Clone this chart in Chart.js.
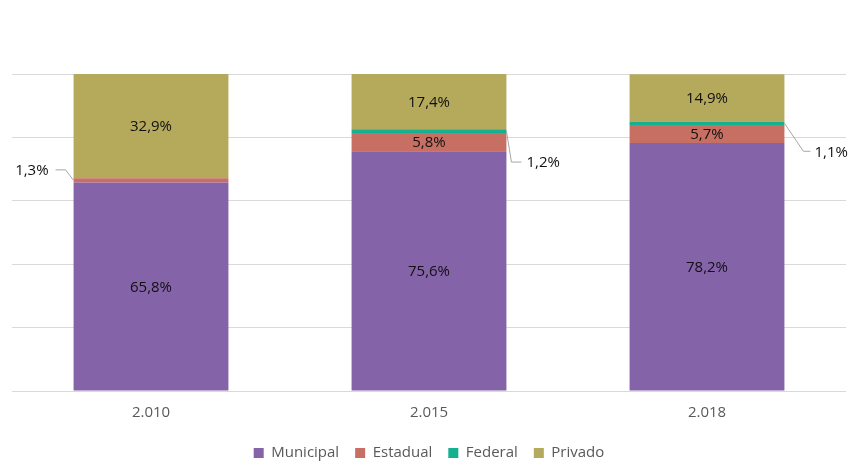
<!DOCTYPE html>
<html>
<head>
<meta charset="utf-8">
<script src="https://cdn.jsdelivr.net/npm/chart.js@4.4.1/dist/chart.umd.min.js"></script>
<style>
    html, body { margin: 0; padding: 0; background: #fff; overflow: hidden; }
    .chart-wrap { width: 852px; height: 462px; position: relative; }
</style>
</head>
<body>
<div class="chart-wrap"><canvas id="shareChart"></canvas></div>
<script>
// Data (% of enrolment by school network)
const years = ['2.010', '2.015', '2.018'];
const municipal = [65.8, 75.6, 78.2];
const estadual = [1.3, 5.8, 5.7];
const federal = [0, 1.2, 1.1];
const privado = [32.9, 17.4, 14.9];

const yTicks = [0, 20, 40, 60, 80, 100];

// Value labels drawn inside the segments, small ones with a leader line
const valueLabels = {
    id: 'valueLabels',
    afterDatasetsDraw(chart, args, opts) {
        const ctx = chart.ctx;
        ctx.save();
        ctx.font = '15px "Open Sans"';
        ctx.textBaseline = 'middle';
        chart.data.datasets.forEach((ds, di) => {
            const meta = chart.getDatasetMeta(di);
            meta.data.forEach((bar, i) => {
                const v = ds.data[i];
                if (!v) return;
                const text = v.toFixed(1).replace('.', ',') + '%';
                const top = Math.min(bar.y, bar.base);
                const bottom = Math.max(bar.y, bar.base);
                const midY = (top + bottom) / 2;

                if (bottom - top > 14) {
                    ctx.fillStyle = '#111';
                    ctx.textAlign = 'center';
                    ctx.fillText(text, bar.x, midY + 1);
                    return;
                }

                // callout
                const c = opts.callouts[i];
                const ax = c.side === 'left' ? bar.x - bar.width / 2 : bar.x + bar.width / 2;
                ctx.strokeStyle = '#A6A6A6';
                ctx.lineWidth = 1;
                ctx.beginPath();
                ctx.moveTo(ax, midY);
                ctx.lineTo(ax + c.ex, midY + c.ey);
                ctx.lineTo(ax + c.lx, midY + c.ey);
                ctx.stroke();
                ctx.fillStyle = '#111';
                ctx.textAlign = c.side === 'left' ? 'right' : 'left';
                ctx.fillText(text, ax + c.tx, midY + c.ey + 1);
            });
        });
        ctx.restore();
    }
};

// Push the legend row down to where the original sits
const legendShift = {
    id: 'legendShift',
    afterLayout(chart, args, opts) {
        const l = chart.legend;
        if (!l) return;
        const pad = l.options.labels.padding;
        const size = l.options.labels.font.size;
        const dy = opts.centerY - (l.top + pad + size / 2);
        l.top += dy;
        l.bottom += dy;
    }
};

const ctx = document.getElementById('shareChart');

new Chart(ctx, {
    type: 'bar',
    data: {
        labels: years,
        datasets: [
            { label: 'Municipal', data: municipal, backgroundColor: '#8563A8' },
            { label: 'Estadual', data: estadual, backgroundColor: '#C76F63' },
            { label: 'Federal', data: federal, backgroundColor: '#14B08F' },
            { label: 'Privado', data: privado, backgroundColor: '#B5A95C' }
        ]
    },
    options: {
        responsive: true,
        maintainAspectRatio: false,
        animation: false,
        layout: {
            padding: { top: 74, left: 12, right: 6, bottom: 0 }
        },
        datasets: {
            bar: {
                categoryPercentage: 0.557,
                barPercentage: 1,
                borderWidth: 0
            }
        },
        plugins: {
            legend: {
                position: 'bottom',
                labels: {
                    boxWidth: 10,
                    boxHeight: 10,
                    padding: 16,
                    color: '#595959',
                    font: { family: '"Open Sans"', size: 15 }
                }
            },
            legendShift: { centerY: 453 },
            tooltip: { enabled: false },
            valueLabels: {
                callouts: [
                    { side: 'left', ex: -8, ey: -10.5, lx: -18, tx: -25 },
                    { side: 'right', ex: 5, ey: 31, lx: 15, tx: 20 },
                    { side: 'right', ex: 19, ey: 28, lx: 26, tx: 30 }
                ]
            }
        },
        scales: {
            x: {
                stacked: true,
                grid: { display: false, drawTicks: false },
                border: { display: false },
                ticks: {
                    padding: 13,
                    color: '#595959',
                    font: { family: '"Open Sans"', size: 15 }
                },
                afterFit: (axis) => {
                    axis.height = 30;
                }
            },
            y: {
                stacked: true,
                min: 0,
                max: 100,
                afterBuildTicks: (axis) => {
                    axis.ticks = yTicks.map(v => ({ value: v }));
                },
                grid: { color: '#D9D9D9', lineWidth: 1, drawTicks: false },
                border: { display: false },
                ticks: { display: false }
            }
        }
    },
    plugins: [valueLabels, legendShift]
});
</script>
</body>
</html>
